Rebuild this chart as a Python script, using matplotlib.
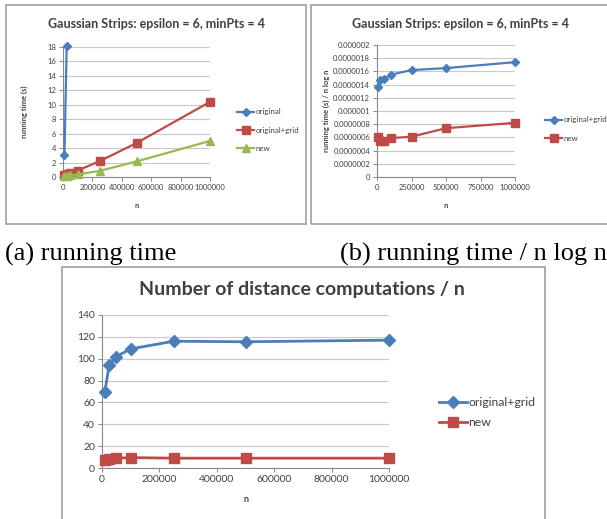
import matplotlib
matplotlib.use("Agg")
import matplotlib.pyplot as plt
from matplotlib.patches import Rectangle
from matplotlib.ticker import FuncFormatter

# data
n_vals = [10000, 25000, 50000, 100000, 250000, 500000, 1000000]

# (a) running time (s)
time_original_n = [10000, 25000]
time_original = [3.0, 18.2]
time_grid = [0.25, 0.4, 0.55, 0.9, 2.2, 4.7, 10.4]
time_new = [0.1, 0.15, 0.25, 0.35, 0.85, 2.15, 5.0]

# (b) running time / n log n
norm_grid = [1.36e-6, 1.47e-6, 1.48e-6, 1.55e-6, 1.62e-6, 1.65e-6, 1.74e-6]
norm_new = [0.60e-6, 0.55e-6, 0.55e-6, 0.59e-6, 0.61e-6, 0.74e-6, 0.82e-6]

# (c) distance computations / n
dist_grid = [70, 94, 102, 109, 116, 115.5, 117]
dist_new = [7.5, 8.5, 9, 9.5, 9, 9, 9]

title_ab = "Gaussian Strips: epsilon = 6, minPts = 4"
title_c = "Number of distance computations / n"
caption_a = "(a) running time"
caption_b = "(b) running time / n log n"

BLUE = "#4A7EBB"
RED = "#BE4B48"
GREEN = "#98B954"
GRID = "#C8C8C8"
AXIS = "#888888"
TXT = "#404040"

W, H = 607, 519
plt.rcParams['font.family'] = ['Lato', 'DejaVu Sans']

fig = plt.figure(figsize=(W / 100, H / 100), dpi=100)


def px_axes(left, top, right, bottom):
    return fig.add_axes([left / W, 1 - bottom / H, (right - left) / W, (bottom - top) / H])


def box(left, top, right, bottom):
    fig.patches.append(Rectangle((left / W, 1 - bottom / H), (right - left) / W, (bottom - top) / H,
                                 transform=fig.transFigure, fill=False, edgecolor="#A6A6A6",
                                 linewidth=1.3, clip_on=False))


def style(ax, fs):
    for s in ["top", "right"]:
        ax.spines[s].set_visible(False)
    for s in ["left", "bottom"]:
        ax.spines[s].set_color(AXIS)
        ax.spines[s].set_linewidth(0.8)
    ax.yaxis.grid(True, color=GRID, linewidth=0.8)
    ax.set_axisbelow(True)
    ax.tick_params(colors=AXIS, labelcolor=TXT, labelsize=fs, length=3, width=0.7, pad=2)
    ax.set_xlim(0, 1000000)
    ax.xaxis.set_major_formatter(FuncFormatter(lambda v, p: f"{int(round(v))}"))


def legend(ax, x, y, fs, hl=2.2, ls=1.4):
    ax.legend(loc="center left", bbox_to_anchor=(x / W, 1 - y / H), bbox_transform=fig.transFigure,
              frameon=False, fontsize=fs, labelcolor=TXT, handlelength=hl, handletextpad=0.1,
              labelspacing=ls, borderpad=0)


# ---- panel (a)
box(6, 5, 306, 224)
ax = px_axes(63, 47, 210, 177)
ax.plot(time_original_n, time_original, color=BLUE, marker="D", markersize=4, lw=1.6,
        label="original", clip_on=False, zorder=4)
ax.plot(n_vals, time_grid, color=RED, marker="s", markersize=5.5, lw=1.6, label="original+grid",
        clip_on=False, zorder=3)
ax.plot(n_vals, time_new, color=GREEN, marker="^", markersize=5.5, lw=1.6, label="new",
        clip_on=False, zorder=3)
style(ax, 5.5)
ax.set_ylim(0, 18)
ax.set_yticks(range(0, 19, 2))
ax.set_xticks(range(0, 1000001, 200000))
ax.set_xlabel("n", fontsize=5.5, fontweight="bold", color=TXT, labelpad=8)
ax.set_ylabel("running time (s)", fontsize=5.5, fontweight="bold", color=TXT, labelpad=14)
fig.text(156 / W, 1 - 24 / H, title_ab, ha="center", va="center", fontsize=9,
         fontweight="bold", color=TXT)
legend(ax, 233, 130, 5.7)

# ---- panel (b)
box(311, 5, 612, 224)
ax = px_axes(377, 45, 515, 177)
ax.plot(n_vals, norm_grid, color=BLUE, marker="D", markersize=4, lw=1.6,
        label="original+grid", clip_on=False, zorder=4)
ax.plot(n_vals, norm_new, color=RED, marker="s", markersize=5.5, lw=1.6, label="new",
        clip_on=False, zorder=3)
style(ax, 5.5)
ax.set_ylim(0, 2e-6)
ax.set_yticks([i * 2e-7 for i in range(11)])
ax.yaxis.set_major_formatter(FuncFormatter(lambda v, p: f"{v:.7f}".rstrip("0").rstrip(".")))
ax.set_xticks(range(0, 1000001, 250000))
ax.set_xlabel("n", fontsize=5.5, fontweight="bold", color=TXT, labelpad=8)
ax.set_ylabel("running time (s) / n log n", fontsize=5.5, fontweight="bold", color=TXT,
              labelpad=2)
fig.text(461 / W, 1 - 24 / H, title_ab, ha="center", va="center", fontsize=9,
         fontweight="bold", color=TXT)
legend(ax, 541, 129, 5.7)

# ---- captions
fig.text(5 / W, 1 - 254 / H, caption_a, ha="left", va="center", fontsize=19,
         family="Liberation Serif", color="black")
fig.text(340 / W, 1 - 254 / H, caption_b, ha="left", va="center", fontsize=19,
         family="Liberation Serif", color="black")

# ---- panel (c)
box(62, 267, 545, 530)
ax = px_axes(102, 315, 389, 468)
ax.plot(n_vals, dist_grid, color=BLUE, marker="D", markersize=6.5, lw=2,
        label="original+grid", clip_on=False, zorder=4)
ax.plot(n_vals, dist_new, color=RED, marker="s", markersize=7.5, lw=2, label="new",
        clip_on=False, zorder=3)
style(ax, 7.5)
ax.set_ylim(0, 140)
ax.set_yticks(range(0, 141, 20))
ax.set_xticks(range(0, 1000001, 200000))
ax.set_xlabel("n", fontsize=6.5, fontweight="bold", color=TXT, labelpad=8)
fig.text(302 / W, 1 - 290 / H, title_c, ha="center", va="center", fontsize=14,
         fontweight="bold", color=TXT)
legend(ax, 433, 412.5, 8.8, hl=2.3, ls=0.72)

fig.savefig("out.png", dpi=100, facecolor="white")
